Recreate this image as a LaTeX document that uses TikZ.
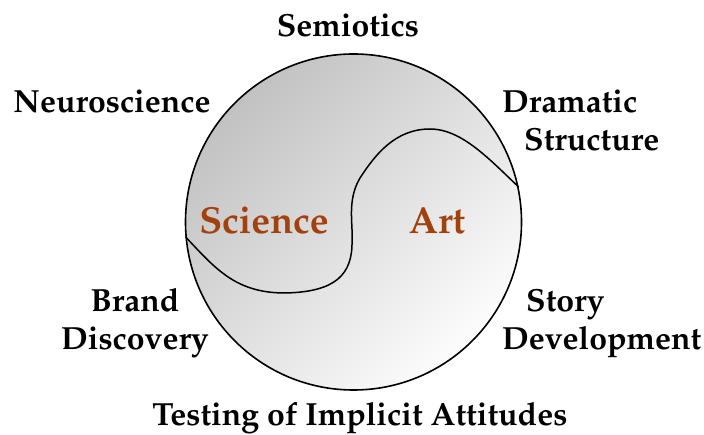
\documentclass[tikz,border=0pt]{standalone}
\usepackage[T1]{fontenc}
\usepackage{mathpazo}
\usetikzlibrary{shadings}
\definecolor{rust}{RGB}{162,64,14}
\definecolor{discdark}{gray}{0.76}
\definecolor{disclight}{gray}{0.99}
\tikzset{
  topic/.style={font=\fontsize{32}{38}\selectfont\bfseries, text=black, inner sep=0pt},
  realm/.style={font=\fontsize{37.6}{44}\selectfont\bfseries, text=rust, inner sep=0pt},
  disc/.style={circle, draw=black, line width=1.6pt, minimum size=336pt, inner sep=0pt,
    top color=discdark, bottom color=disclight, shading angle=45},
  divide/.style={draw=black, line width=1.5pt}
}
\begin{document}
\begin{tikzpicture}[x=1pt, y=-1pt]
  \useasboundingbox (0,0) rectangle (704,435);

  % the disc and the S-shaped boundary between the two realms
  \node[disc] (disc) at (353.5,222) {};
  \path[divide] (disc.185)
    .. controls (215,268) and (235,293) .. (285,293)
    .. controls (335,292) and (353,275) .. (352,240)
    .. controls (353,222) and (347,200) .. (360,178)
    .. controls (375,155) and (395,129) .. (430,129)
    .. controls (462,129) and (490,160) .. (disc.12);

  % the two realms
  \node[realm, anchor=base] (science) at (264,234) {Science};
  \node[realm, anchor=base] (art) at (437,234) {Art};

  % surrounding topics (multi-line nodes sit on their last baseline)
  \node[topic, anchor=base] (semiotics) at (348,37) {Semiotics};
  \node[topic, anchor=base] (neuro) at (112,113) {Neuroscience};
  \node[topic, anchor=base west, align=left] (drama) at (502,151)
    {Dramatic\\\hspace*{22pt}Structure};
  \node[topic, anchor=base, align=center] (brand) at (135,350)
    {Brand\\Discovery};
  \node[topic, anchor=base west, align=left] (story) at (502,350)
    {\hspace*{24pt}Story\\Development};
  \node[topic, anchor=base] (testing) at (360,425) {Testing of Implicit Attitudes};
\end{tikzpicture}
\end{document}
